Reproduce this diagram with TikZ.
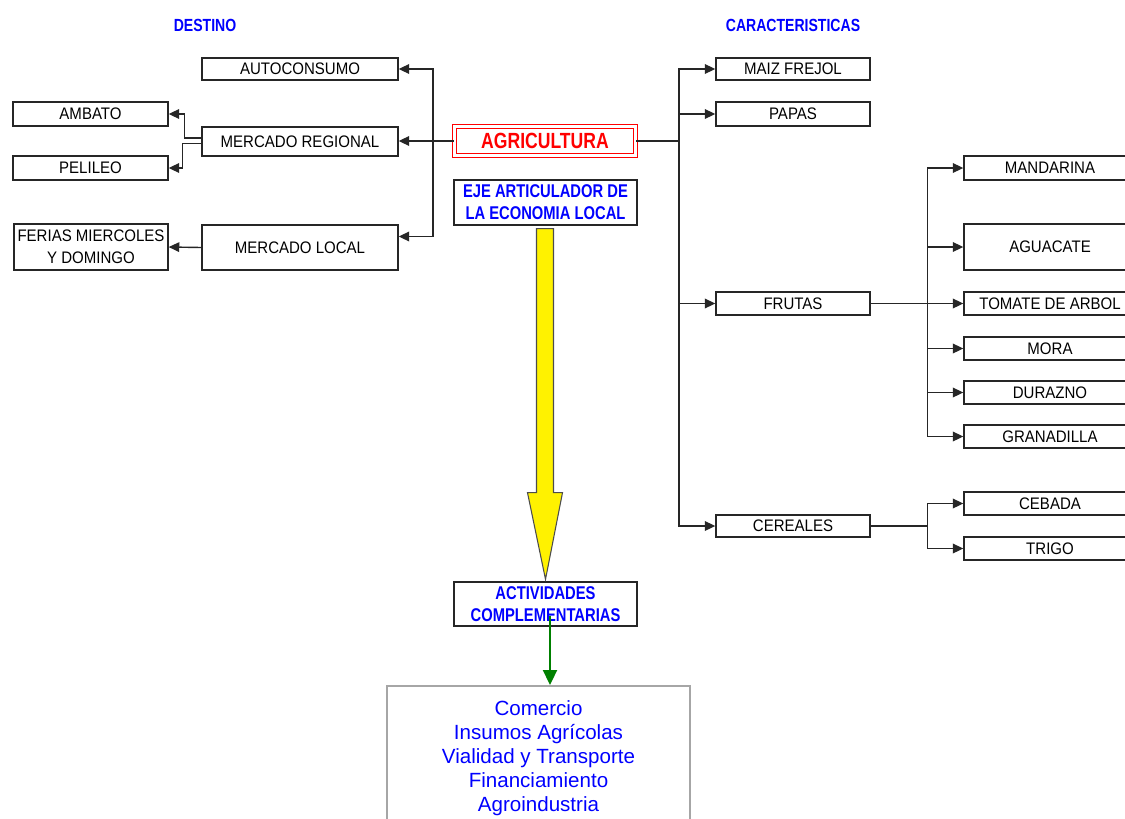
\documentclass[tikz,border=0pt]{standalone}
\usepackage{fontspec}
\setmainfont{Liberation Sans}
\newfontfamily\angosta[FakeStretch=0.9]{Liberation Sans}
\newfontfamily\titular[FakeStretch=0.8]{Liberation Sans}
\usetikzlibrary{arrows.meta,calc}

\begin{document}
\begin{tikzpicture}[x=0.02cm,y=-0.02cm,
  caja/.style={draw=black!85,line width=0.8pt,fill=white,inner sep=0pt,align=center,
    font=\angosta\fontsize{9.5}{12.5}\selectfont},
  titulo/.style={text=blue,font=\titular\bfseries\fontsize{10.5}{12.5}\selectfont},
  cabecera/.style={text=blue,font=\titular\bfseries\fontsize{10}{12}\selectfont},
  flecha/.style={-{Triangle[length=6pt,width=5.5pt]},line width=0.8pt,draw=black!85},
  linea/.style={line width=0.8pt,draw=black!85}]

\useasboundingbox (0,0) rectangle (1125,818);
\clip (0,0) rectangle (1125,818);

        % cabeceras
        \node[cabecera] (dest)  at (205, 25) {DESTINO};
        \node[cabecera] (carac) at (793, 25) {CARACTERISTICAS};

        % destino
        \node[caja,minimum width=3.92cm,minimum height=0.44cm] (auto) at (300, 69)    {AUTOCONSUMO};
        \node[caja,minimum width=3.92cm,minimum height=0.58cm] (mreg) at (300, 141.5) {MERCADO REGIONAL};
        \node[caja,minimum width=3.92cm,minimum height=0.9cm]  (mloc) at (300, 247.5) {MERCADO LOCAL};
        \node[caja,minimum width=3.1cm,minimum height=0.48cm]  (amb)  at (90.5, 114)  {AMBATO};
        \node[caja,minimum width=3.1cm,minimum height=0.48cm]  (pel)  at (90.5, 168)  {PELILEO};
        \node[caja,minimum width=3.08cm,minimum height=0.92cm] (fer)  at (91, 247)    {FERIAS MIERCOLES\\Y DOMINGO};

        % centro
        \node[caja,draw=red,double=white,double distance=1.2pt,line width=0.6pt,minimum width=3.62cm,minimum height=0.58cm,
              text=red,font=\titular\bfseries\fontsize{12.5}{14}\selectfont] (agri) at (545, 141) {AGRICULTURA};
        \node[caja,titulo,minimum width=3.66cm,minimum height=0.9cm]  (eje) at (545.5, 202.5) {EJE ARTICULADOR DE\\LA ECONOMIA LOCAL};
        \node[caja,titulo,minimum width=3.66cm,minimum height=0.88cm] (act) at (545.5, 604)   {ACTIVIDADES\\COMPLEMENTARIAS};
        \node[caja,draw=gray!70,line width=1pt,minimum width=6.06cm,minimum height=2.9cm,anchor=north,
              text=blue,font=\fontsize{11.7}{13.6}\selectfont] (bot) at (538.5, 685)
              {Comercio\\Insumos Agrícolas\\Vialidad y Transporte\\Financiamiento\\Agroindustria};

        % caracteristicas
        \node[caja,minimum width=3.08cm,minimum height=0.44cm] (maiz)  at (793, 69)    {MAIZ FREJOL};
        \node[caja,minimum width=3.08cm,minimum height=0.48cm] (papas) at (793, 114)   {PAPAS};
        \node[caja,minimum width=3.08cm,minimum height=0.46cm] (frut)  at (793, 303.5) {FRUTAS};
        \node[caja,minimum width=3.08cm,minimum height=0.44cm] (cer)   at (793, 526)   {CEREALES};
        \node[caja,minimum width=3.44cm,minimum height=0.48cm] (mand)  at (1050, 168)   {MANDARINA};
        \node[caja,minimum width=3.44cm,minimum height=0.92cm] (agua)  at (1050, 247)   {AGUACATE};
        \node[caja,minimum width=3.44cm,minimum height=0.46cm] (tom)   at (1050, 303.5) {TOMATE DE ARBOL};
        \node[caja,minimum width=3.44cm,minimum height=0.46cm] (mora)  at (1050, 348.5) {MORA};
        \node[caja,minimum width=3.44cm,minimum height=0.46cm] (dur)   at (1050, 392.5) {DURAZNO};
        \node[caja,minimum width=3.44cm,minimum height=0.46cm] (gran)  at (1050, 436.5) {GRANADILLA};
        \node[caja,minimum width=3.44cm,minimum height=0.46cm] (ceb)   at (1050, 503.5) {CEBADA};
        \node[caja,minimum width=3.44cm,minimum height=0.46cm] (tri)   at (1050, 548.5) {TRIGO};

	% conexiones destino
	\coordinate (ci) at (433, 141);
	\draw[flecha] (agri.west) -- (agri.west -| mreg.east);
	\draw[flecha] (ci) |- (auto.east);
	\draw[flecha] (ci) |- ([yshift=0.22cm]mloc.east);
	\draw[flecha] ([yshift=0.07cm]mreg.west) -- ++(-17, 0) |- (amb.east);
	\draw[flecha] ([yshift=-0.04cm]mreg.west) -- ++(-19, 0) |- (pel.east);
	\draw[flecha] (mloc.west) -- (fer.east);

	% conexiones caracteristicas
	\draw[linea] (agri.east) -- ++(43, 0) coordinate (cd);
	\draw[flecha] (cd) |- (maiz.west);
	\draw[flecha] (cd) |- (papas.west);
	\draw[flecha] (cd) |- (frut.west);
	\draw[flecha] (cd) |- (cer.west);
	\draw[flecha] (frut.east) -- (tom.west);
	\path (frut.east) -- ++(57, 0) coordinate (cf);
	\draw[flecha] (cf) |- (mand.west);
	\draw[flecha] (cf) |- (agua.west);
	\draw[flecha] (cf) |- (mora.west);
	\draw[flecha] (cf) |- (dur.west);
	\draw[flecha] (cf) |- (gran.west);
	\draw[linea] (cer.east) -- ++(57, 0) coordinate (cc);
	\draw[flecha] (cc) |- (ceb.west);
	\draw[flecha] (cc) |- (tri.west);

	% flecha amarilla y flecha verde
	\draw[draw=black!70,fill=yellow,line width=0.6pt]
	  ($(eje.south)+(-9, 3)$) -- ($(eje.south)+(8, 3)$) -- ($(eje.south)+(8, 267)$)
	  -- ($(eje.south)+(17, 267)$) -- ($(act.north)+(0, -2)$) -- ($(eje.south)+(-18, 267)$)
	  -- ($(eje.south)+(-9, 267)$) -- cycle;
	\coordinate (gv) at ($(act.south)+(4.5, -11)$);
	\draw[-{Triangle[length=8.5pt,width=8pt]},line width=1pt,draw=green!50!black,fill=green!50!black]
	  (gv) -- (gv |- bot.north);
\end{tikzpicture}
\end{document}
